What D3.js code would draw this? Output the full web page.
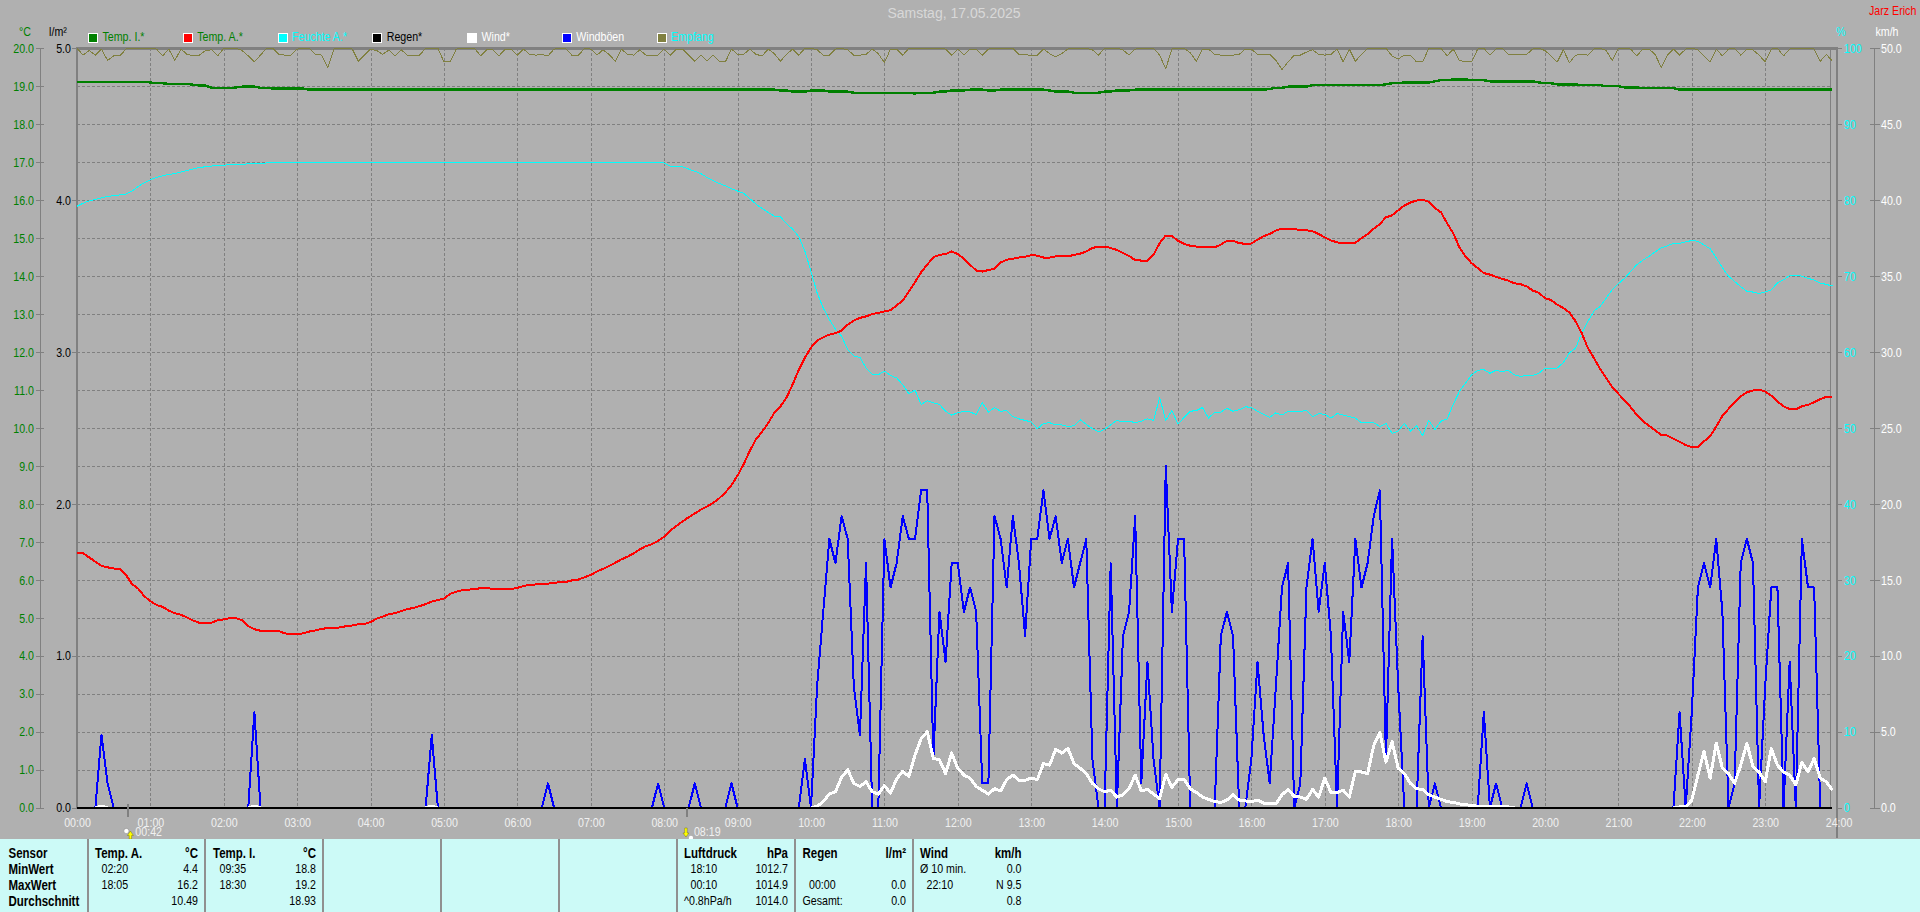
<!DOCTYPE html>
<html><head><meta charset="utf-8">
<script src="https://cdn.jsdelivr.net/npm/d3@7/dist/d3.min.js"></script>
<style>
html,body{margin:0;padding:0;background:#b0b0b0;overflow:hidden}
svg{display:block}
text{font-family:"Liberation Sans",Arial,sans-serif;font-size:13px}
.axis path.domain{display:none}
.axis line{stroke:#808080;shape-rendering:crispEdges}
.axis text{font-family:"Liberation Sans",Arial,sans-serif;font-size:13px}
.crisp{shape-rendering:crispEdges}
</style></head><body><div id="chart"></div>
<script>
// Samples every 5 minutes, 00:00 to 23:55: one row per hour
const tempInside=[
19.12,19.12,19.12,19.12,19.12,19.12,19.12,19.12,19.12,19.12,19.12,19.12,
19.1,19.08,19.08,19.06,19.06,19.06,19.06,19.04,19.02,19.02,18.96,18.96,
18.95,18.95,18.97,18.99,18.99,18.99,18.96,18.96,18.94,18.94,18.94,18.94,
18.94,18.94,18.91,18.91,18.91,18.91,18.91,18.91,18.91,18.91,18.91,18.91,
18.91,18.91,18.91,18.91,18.91,18.91,18.91,18.91,18.91,18.91,18.91,18.91,
18.91,18.91,18.91,18.91,18.91,18.91,18.91,18.91,18.91,18.91,18.91,18.91,
18.91,18.91,18.91,18.91,18.91,18.91,18.91,18.91,18.91,18.91,18.91,18.91,
18.91,18.91,18.91,18.91,18.91,18.91,18.91,18.91,18.91,18.91,18.91,18.91,
18.91,18.91,18.91,18.91,18.91,18.91,18.91,18.91,18.91,18.91,18.91,18.91,
18.91,18.91,18.91,18.91,18.91,18.91,18.91,18.89,18.89,18.86,18.86,18.86,
18.89,18.89,18.89,18.86,18.86,18.86,18.86,18.83,18.83,18.83,18.83,18.83,
18.83,18.83,18.83,18.83,18.83,18.81,18.83,18.83,18.83,18.86,18.86,18.89,
18.89,18.89,18.91,18.91,18.91,18.89,18.89,18.91,18.91,18.91,18.91,18.91,
18.91,18.91,18.91,18.89,18.86,18.86,18.86,18.83,18.83,18.83,18.83,18.83,
18.86,18.86,18.89,18.89,18.89,18.91,18.91,18.91,18.91,18.91,18.91,18.91,
18.91,18.91,18.91,18.91,18.91,18.91,18.91,18.91,18.91,18.91,18.91,18.91,
18.91,18.91,18.91,18.93,18.96,18.96,18.99,18.99,18.99,18.99,19.03,19.03,
19.03,19.03,19.03,19.03,19.03,19.03,19.03,19.03,19.03,19.03,19.05,19.08,
19.08,19.1,19.1,19.1,19.1,19.1,19.13,19.16,19.16,19.18,19.18,19.18,
19.16,19.16,19.16,19.13,19.13,19.13,19.13,19.13,19.13,19.13,19.13,19.1,
19.08,19.08,19.05,19.05,19.05,19.05,19.03,19.03,19.03,19.03,19,19,
19,18.97,18.97,18.97,18.95,18.95,18.95,18.95,18.95,18.95,18.91,18.91,
18.91,18.91,18.91,18.91,18.91,18.91,18.91,18.91,18.91,18.91,18.91,18.91,
18.91,18.91,18.91,18.91,18.91,18.91,18.91,18.91,18.91,18.91,18.91,18.91];

const tempOutside=[
6.72,6.7,6.59,6.48,6.37,6.33,6.3,6.29,6.13,5.89,5.77,5.57,
5.44,5.34,5.29,5.19,5.12,5.08,5.01,4.93,4.87,4.86,4.87,4.94,
4.96,4.99,4.99,4.94,4.78,4.7,4.66,4.66,4.66,4.65,4.59,4.58,
4.58,4.59,4.64,4.67,4.71,4.73,4.73,4.75,4.78,4.8,4.83,4.84,
4.89,4.98,5.03,5.1,5.12,5.18,5.23,5.26,5.31,5.36,5.43,5.47,
5.51,5.63,5.69,5.73,5.74,5.76,5.78,5.79,5.76,5.75,5.75,5.76,
5.79,5.84,5.87,5.88,5.89,5.9,5.92,5.94,5.95,5.99,6.01,6.07,
6.13,6.22,6.29,6.37,6.45,6.54,6.61,6.7,6.8,6.89,6.94,7.03,
7.14,7.3,7.42,7.54,7.65,7.75,7.85,7.93,8.03,8.15,8.3,8.5,
8.75,9.05,9.4,9.7,9.9,10.13,10.4,10.57,10.8,11.15,11.53,11.85,
12.12,12.3,12.39,12.46,12.5,12.56,12.72,12.83,12.9,12.94,13,13.03,
13.07,13.1,13.23,13.35,13.6,13.84,14.1,14.3,14.5,14.56,14.58,14.65,
14.58,14.46,14.3,14.15,14.12,14.16,14.19,14.36,14.43,14.46,14.49,14.51,
14.55,14.54,14.49,14.49,14.52,14.52,14.52,14.56,14.59,14.65,14.74,14.78,
14.78,14.74,14.69,14.61,14.53,14.42,14.41,14.41,14.56,14.87,15.07,15.06,
14.93,14.85,14.8,14.78,14.78,14.76,14.76,14.83,14.93,14.93,14.87,14.85,
14.86,14.96,15.05,15.11,15.2,15.25,15.25,15.24,15.21,15.21,15.18,15.11,
15.02,14.94,14.89,14.86,14.86,14.88,15,15.11,15.25,15.37,15.55,15.6,
15.73,15.86,15.94,15.99,16.01,15.96,15.79,15.68,15.39,15.13,14.76,14.52,
14.34,14.21,14.08,14.04,13.98,13.93,13.88,13.81,13.79,13.73,13.62,13.56,
13.42,13.37,13.25,13.16,13.04,12.81,12.5,12.11,11.84,11.56,11.32,11.08,
10.9,10.73,10.55,10.35,10.18,10.06,9.94,9.82,9.8,9.72,9.64,9.55,
9.5,9.49,9.65,9.78,10.04,10.32,10.5,10.68,10.83,10.94,10.99,11.01,
10.96,10.85,10.7,10.57,10.5,10.49,10.57,10.61,10.68,10.76,10.82,10.83];

const humidity=[
79.2,79.6,79.9,80.1,80.3,80.5,80.6,80.7,80.8,81.2,81.8,82.3,
82.7,83,83.2,83.4,83.5,83.7,83.9,84.1,84.3,84.4,84.5,84.6,
84.6,84.7,84.7,84.7,84.8,84.8,84.8,84.9,84.9,84.9,85,85,
85,85,85,85,85,85,85,85,85,85,85,85,
85,85,85,85,85,85,85,85,85,85,85,85,
85,85,85,85,85,85,85,85,85,85,85,85,
85,85,85,85,85,85,85,85,85,85,85,85,
85,85,85,85,85,85,85,85,85,85,85,85,
84.9,84.5,84.4,84.4,84.1,83.8,83.5,83,82.6,82.2,81.9,81.5,
81.2,80.9,80.2,79.5,78.9,78.4,77.9,77.8,76.9,76.2,75.2,73.3,
70.6,67.8,65.8,64.3,63,62.1,60.3,59.5,59.3,57.9,57.1,57,
57.5,56.9,56.6,55.7,54.5,55,53.1,53.6,53.3,53.1,52.2,51.7,
52,52.2,52.1,51.8,53.3,52.1,52.7,52.2,52.3,51.5,51.2,51,
50.8,49.9,50.6,50.7,50.4,50.4,50.2,50.3,51.1,50.5,49.9,49.5,
49.8,50.4,51,50.8,50.9,50.7,50.9,51.2,51,54,51,52.3,
50.5,51.4,52.2,52.3,52.7,51.3,52.1,52.1,52.6,52.2,52.4,52.8,
52.7,52.2,51.8,51.4,52,51.7,52.2,52.2,52.2,52.3,51.5,51.9,
51.8,51.3,51.9,51.7,51.5,51.3,50.7,50.7,50.7,50.2,50.6,49.3,
49.6,50.6,49.6,50.3,49,51,49.8,50.9,51.2,53.1,54.8,55.9,
57,57.6,57.7,57.2,57.6,57.4,57.6,57,56.8,56.9,56.9,57.2,
57.9,57.8,57.9,58.6,59.9,60.5,62.5,64,65.4,66,67.1,68.2,
69,69.7,70.6,71.5,72.1,72.6,73.2,73.7,74,74.3,74.3,74.5,
74.7,74.6,74.1,73.6,72.4,71.1,70,69.3,68.6,68,67.9,67.7,
67.9,68.2,69.1,69.5,70.1,70.1,70,69.7,69.5,69.1,68.9,68.7];

const rain=[
0,0,0,0,0,0,0,0,0,0,0,0, 0,0,0,0,0,0,0,0,0,0,0,0,
0,0,0,0,0,0,0,0,0,0,0,0, 0,0,0,0,0,0,0,0,0,0,0,0,
0,0,0,0,0,0,0,0,0,0,0,0, 0,0,0,0,0,0,0,0,0,0,0,0,
0,0,0,0,0,0,0,0,0,0,0,0, 0,0,0,0,0,0,0,0,0,0,0,0,
0,0,0,0,0,0,0,0,0,0,0,0, 0,0,0,0,0,0,0,0,0,0,0,0,
0,0,0,0,0,0,0,0,0,0,0,0, 0,0,0,0,0,0,0,0,0,0,0,0,
0,0,0,0,0,0,0,0,0,0,0,0, 0,0,0,0,0,0,0,0,0,0,0,0,
0,0,0,0,0,0,0,0,0,0,0,0, 0,0,0,0,0,0,0,0,0,0,0,0,
0,0,0,0,0,0,0,0,0,0,0,0, 0,0,0,0,0,0,0,0,0,0,0,0,
0,0,0,0,0,0,0,0,0,0,0,0, 0,0,0,0,0,0,0,0,0,0,0,0,
0,0,0,0,0,0,0,0,0,0,0,0, 0,0,0,0,0,0,0,0,0,0,0,0,
0,0,0,0,0,0,0,0,0,0,0,0, 0,0,0,0,0,0,0,0,0,0,0,0];

const wind=[
0,0,0,0,.1,0,0,0,0,0,0,0,
0,0,0,0,0,0,0,0,0,0,0,0,
0,0,0,0,0,.1,0,0,0,0,0,0,
0,0,0,0,0,0,0,0,0,0,0,0,
0,0,0,0,0,0,0,0,0,0,.1,0,
0,0,0,0,0,0,0,0,0,0,0,0,
0,0,0,0,0,0,0,0,0,0,0,0,
0,0,0,0,0,0,0,0,0,0,0,0,
0,0,0,0,0,0,0,0,0,0,0,0,
0,0,0,0,0,0,0,0,0,0,0,0,
0,.1,.4,.9,1.05,2,2.5,1.6,1.4,1.7,1.05,.9,
1.45,.95,1.9,2.4,2.05,3.45,4.55,5,3.25,3.15,2.25,3.6,
2.6,2.15,1.95,1.4,1.15,.9,1.25,1.1,1.85,2.15,1.8,1.8,
1.95,1.85,2.9,2.8,3.85,3.6,3.9,2.9,2.6,2.25,1.6,1.25,
1.05,1.15,.7,.85,1.25,2.15,1.1,1.2,.9,.6,2.2,1.35,
1.85,1.85,1.25,1,.7,.55,.4,.35,.5,.85,.5,.45,
.4,.5,.3,.25,.25,.85,1.2,.75,.7,.55,1.2,.7,
1.95,1,1,1.15,.7,2.4,2.35,2.25,4.1,4.95,3,4.35,
2.6,2.25,1.6,1.25,1.2,.85,.7,.55,.4,.35,.25,.2,
.15,.1,.1,.1,.05,.05,.05,0,0,0,0,0,
0,0,0,0,0,0,0,0,0,0,0,0,
0,0,0,0,0,0,0,0,0,0,.05,.05,
.5,2.15,3.7,1.95,4.25,2.6,2.25,1.6,2.8,4.25,2.7,2.35,
1.7,3.9,2.8,2.35,2.15,1.5,3,2.35,3.25,1.95,1.7,1.15];

const gusts=[
0,0,0,0,4.8,1.6,0,0,0,0,0,0,
0,0,0,0,0,0,0,0,0,0,0,0,
0,0,0,0,0,6.3,0,0,0,0,0,0,
0,0,0,0,0,0,0,0,0,0,0,0,
0,0,0,0,0,0,0,0,0,0,4.8,0,
0,0,0,0,0,0,0,0,0,0,0,0,
0,0,0,0,0,1.6,0,0,0,0,0,0,
0,0,0,0,0,0,0,0,0,0,0,1.6,
0,0,0,0,0,1.6,0,0,0,0,0,1.6,
0,0,0,0,0,0,0,0,0,0,0,3.2,
0,8,12.9,17.7,16.1,19.2,17.7,8,4.8,16.1,0,0,
17.7,14.5,16.1,19.2,17.7,17.7,20.9,20.9,3.2,12.9,9.6,16.1,
16.1,12.9,14.5,12.9,1.6,1.6,19.2,17.7,14.5,19.2,16.1,11.3,
17.7,17.7,20.9,17.7,19.2,16.1,17.7,14.5,16.1,17.7,3.2,0,
0,16.1,0,11.3,12.9,19.2,1.6,9.6,3.2,0,22.5,12.9,
17.7,17.7,0,0,0,0,0,11.3,12.9,11.3,0,0,
3.2,9.6,4.8,1.6,8,14.5,16.1,0,1.6,14.5,17.7,12.9,
16.1,11.3,0,12.9,9.6,17.7,14.5,16.1,19.2,20.9,3.2,17.7,
8,0,0,0,11.3,0,1.6,0,0,0,0,0,
0,0,6.3,0,1.6,0,0,0,0,1.6,0,0,
0,0,0,0,0,0,0,0,0,0,0,0,
0,0,0,0,0,0,0,0,0,0,6.3,0,
6.3,14.5,16.1,14.5,17.7,12.9,0,1.6,16.1,17.7,16.1,0,
8,14.5,14.5,0,9.6,0,17.7,14.5,14.5,0,0,0];

const reception=[
100,99.1,99.7,99.1,99.9,98.4,99,99,99.9,100,100,100,
100,99.9,99,99.9,98.4,99.9,99.2,99,99.1,99.7,99.8,99,
100,100,100,99.7,99,98.2,99.1,100,100,99.2,99.1,99.1,
99.9,100,100,99.2,99.1,97.5,99.9,100,100,99.9,98.3,99.1,
99.9,99.7,99.2,99.8,99,99.8,99.1,99,99.1,100,100,100,
98.2,98.2,99.9,100,100,100,99,99.8,99.8,99,99.9,99.9,
99.1,99.9,99.2,99.1,99.2,99,99.9,100,99.9,99,99.1,100,
99.9,99.1,99.8,99.2,98.3,99.9,99.2,99.1,99.8,99.1,99,99.1,
99.9,99.1,99.9,99.9,99.1,98.3,99.1,98.3,99.1,98.3,98.2,99.9,
99.2,99.2,99.9,99.2,99,99.9,99.3,98.3,99.2,99.9,99.1,100,
100,99.8,99.1,99.1,99.9,100,99.8,99.1,99.1,99.2,99.9,99.3,
98.1,99.9,99.9,99.1,100,100,100,100,100,100,99.9,99.1,
99.9,99.1,99.9,99.9,99.1,99.9,100,100,100,100,99.2,99.2,
99,99.1,99.9,99.3,98.9,99.3,99.9,100,100,100,99.8,99.1,
100,100,100,99.8,99.1,99.9,100,100,100,99.1,97.3,99.9,
100,100,99.4,98.3,99.9,99.9,99.2,99.1,99.1,99.1,99.2,99.9,
99.9,99.2,99.2,99.2,98.4,97.2,98.2,99.1,99.1,99.5,99.8,99.2,
99.1,99.2,99.9,98.2,99.9,98.3,99.2,100,100,100,100,99,
98.6,99.1,99.1,98.2,98.2,100,100,100,99,99.9,98.4,98.2,
98.2,99.9,100,99.1,99.9,100,99.2,99.2,99.2,99.2,99.9,100,
99.7,99,98.2,99.8,98.1,99.1,99.2,99.1,99.9,100,99.7,98.4,
100,100,99.9,99,99.9,99.9,99.2,97.5,99.1,99.9,99.1,99.9,
100,99.8,99,98.2,99.9,99,99.9,100,99.1,99.9,99.8,99.1,
98.2,99.9,100,99,99.9,100,100,100,99.9,98.3,99.2,98.3];

const legendNames=["Temp. I.*","Temp. A.*","Feuchte A.*","Regen*","Wind*","Windböen","Empfang"];
const legendFill=["#008000","#ff0000","#00ffff","#000000","#ffffff","#0000ff","#808040"];
const legendText=["#008000","#008000","#00ffff","#000000","#ffffff","#ffffff","#00ffff"];
const hourLabels=["00:00","01:00","02:00","03:00","04:00","05:00","06:00","07:00","08:00","09:00","10:00","11:00","12:00","13:00","14:00","15:00","16:00","17:00","18:00","19:00","20:00","21:00","22:00","23:00","24:00"];
const tempTicks=[0,1,2,3,4,5,6,7,8,9,10,11,12,13,14,15,16,17,18,19,20];
const rainTicks=[0,1,2,3,4,5];
const humidityTicks=[0,10,20,30,40,50,60,70,80,90,100];
const windTicks=[0,5,10,15,20,25,30,35,40,45,50];
const sunriseMinutes=42, sunsetLabel="08:19", sunriseLabel="00:42", sunsetMinutes=499;
const sensorNames=["Sensor","MinWert","MaxWert","Durchschnitt"];
const tableTempA=[["Temp. A.","°C"],["02:20","4.4"],["18:05","16.2"],["","10.49"]];
const tableTempI=[["Temp. I.","°C"],["09:35","18.8"],["18:30","19.2"],["","18.93"]];
const tablePressure=[["Luftdruck","hPa"],["18:10","1012.7"],["00:10","1014.9"],["^0.8hPa/h","1014.0"]];
const tableRain=[["Regen","l/m²"],["",""],["00:00","0.0"],["Gesamt:","0.0"]];
const tableWind=[["Wind","km/h"],["Ø 10 min.","0.0"],["22:10","N 9.5"],["","0.8"]];

const W=1920,H=912,L=77,T=48.3,B=807.7,DAY=1440,NARROW=0.82;
const svg=d3.select("#chart").append("svg").attr("width",W).attr("height",H).attr("viewBox",`0 0 ${W} ${H}`);
svg.append("rect").attr("width",W).attr("height",H).attr("fill","#b0b0b0");

const x=d3.scaleLinear().domain([0,DAY]).range([L,1838.6]);
const yT=d3.scaleLinear().domain([0,20]).range([B,T]);
const yR=d3.scaleLinear().domain([0,5]).range([B,T]);
const yH=d3.scaleLinear().domain([0,100]).range([B,T]);
const yW=d3.scaleLinear().domain([0,50]).range([B,T]);
const xt=i=>x(i*5);
const lastX=xt(tempOutside.length-1);

// grid
const grid=svg.append("g").attr("class","crisp").attr("stroke","#808080").attr("stroke-dasharray","3 2");
grid.selectAll("line.h").data(tempTicks.slice(1,-1)).join("line").attr("x1",L).attr("x2",lastX)
  .attr("y1",d=>Math.round(yT(d))+.5).attr("y2",d=>Math.round(yT(d))+.5);
grid.selectAll("line.v").data(hourLabels.slice(1,-1)).join("line")
  .attr("x1",(d,i)=>Math.round(x((i+1)*60))+.5).attr("x2",(d,i)=>Math.round(x((i+1)*60))+.5).attr("y1",T).attr("y2",B);

// plot frame
const frame=svg.append("g").attr("class","crisp").attr("stroke","#808080");
frame.append("line").attr("x1",L).attr("x2",1838).attr("y1",48).attr("y2",48).attr("stroke-width",3);
frame.append("line").attr("x1",L).attr("x2",L).attr("y1",47).attr("y2",B).attr("stroke-width",2);
frame.append("line").attr("x1",1837).attr("x2",1837).attr("y1",47).attr("y2",838).attr("stroke-width",2);
frame.append("line").attr("x1",Math.round(lastX)-1.5).attr("x2",Math.round(lastX)-1.5).attr("y1",48).attr("y2",B);
frame.append("line").attr("x1",40.5).attr("x2",40.5).attr("y1",T).attr("y2",B);
frame.append("line").attr("x1",1874.5).attr("x2",1874.5).attr("y1",T).attr("y2",B);

// axes
function axis(gen,tx,color){
  const g=svg.append("g").attr("class","axis").attr("transform",`translate(${tx},0)`).call(gen);
  g.selectAll("text").attr("fill",color);
  return g;
}
axis(d3.axisLeft(yT).tickValues(tempTicks).tickFormat(d3.format(".1f")).tickSize(8).tickPadding(2),44,"#008000");
axis(d3.axisLeft(yR).tickValues(rainTicks).tickFormat(d3.format(".1f")).tickSize(5).tickPadding(1),77,"#000000");
axis(d3.axisRight(yH).tickValues(humidityTicks).tickFormat(d3.format("d")).tickSize(5).tickPadding(2),1837,"#00ffff");
axis(d3.axisRight(yW).tickValues(windTicks).tickFormat(d3.format(".1f")).tickSize(10).tickPadding(1),1870,"#ffffff");
const xAxis=d3.axisBottom(x).tickValues(hourLabels.map((d,i)=>i*60)).tickFormat((d,i)=>hourLabels[i]).tickSize(0).tickPadding(10);
const xg=svg.append("g").attr("class","axis").attr("transform",`translate(0,${B})`).call(xAxis);
xg.selectAll("text").attr("fill","#f0f0f0");

// units
const unit=(t,px,py,c,a)=>svg.append("text").attr("x",px).attr("y",py).attr("fill",c).attr("text-anchor",a||"middle").attr("dominant-baseline","middle").text(t);
unit("°C",25,33,"#008000");
unit("l/m²",58,33,"#000000");
unit("%",1841,33,"#00ffff");
unit("km/h",1887,33,"#ffffff");
unit("Jarz Erich",1869,12,"#ff0000","start");

// legend
const lg=svg.append("g").selectAll("g").data(legendNames).join("g").attr("transform",(d,i)=>`translate(${88+i*94.75},0)`);
lg.append("rect").attr("class","crisp").attr("x",.5).attr("y",33.5).attr("width",9).attr("height",9).attr("stroke","#ffffff").attr("fill",(d,i)=>legendFill[i]);
lg.append("text").attr("x",14.5).attr("y",38).attr("dominant-baseline","middle").attr("fill",(d,i)=>legendText[i]).text(d=>d);

// series
const series=(vals,scale,color,w)=>{
  const line=d3.line().x((d,i)=>xt(i)).y(d=>scale(d));
  svg.append("path").datum(vals).attr("class","crisp").attr("fill","none").attr("stroke",color).attr("stroke-width",w).attr("stroke-linejoin","round").attr("d",line);
};
series(reception,yH,"#808040",1);
series(tempInside,yT,"#008000",2.4);
series(humidity,yH,"#00ffff",1);
series(tempOutside,yT,"#ff0000",2);
series(gusts,yW,"#0000ff",2);
const windLine=d3.line().defined((d,i)=>d>0||wind[i-1]>0||wind[i+1]>0).x((d,i)=>xt(i)).y(d=>yW(d));
svg.append("path").datum(wind).attr("class","crisp").attr("fill","none").attr("stroke","#ffffff").attr("stroke-width",3).attr("stroke-linejoin","round").attr("d",windLine);
series(rain,yR,"#000000",2);

// sunrise / sunset markers
const marks=svg.append("g");
[sunriseMinutes,sunsetMinutes].forEach(m=>{
  marks.append("line").attr("class","crisp").attr("x1",x(m)).attr("x2",x(m)).attr("y1",m===sunriseMinutes?804:808).attr("y2",817).attr("stroke","#808080").attr("stroke-width",2);
});
const sx=x(sunriseMinutes), ex=x(sunsetMinutes);
marks.append("circle").attr("cx",sx-2).attr("cy",831).attr("r",2.6).attr("fill","#fff").attr("stroke","#808080").attr("stroke-width",.5);
marks.append("path").attr("transform",`translate(${sx+2},839)`).attr("d","M-1.2,0V-3.5H-3L0,-8L3,-3.5H1.2V0Z").attr("fill","#ffff00").attr("stroke","#606000").attr("stroke-width",.4);
marks.append("path").attr("transform",`translate(${ex-1.5},837)`).attr("d","M-1.2,-9V-4H-3L0,0L3,-4H1.2V-9Z").attr("fill","#ffff00").attr("stroke","#606000").attr("stroke-width",.4);
marks.append("circle").attr("cx",ex+3.5).attr("cy",838).attr("r",2.2).attr("fill","#fff");
marks.append("text").attr("x",sx+7).attr("y",833).attr("dominant-baseline","middle").attr("fill","#f0f0f0").text(sunriseLabel);
marks.append("text").attr("x",ex+6.5).attr("y",833).attr("dominant-baseline","middle").attr("fill","#f0f0f0").text(sunsetLabel);

// summary table
const tb=svg.append("g");
tb.append("rect").attr("x",0).attr("y",839).attr("width",W).attr("height",73).attr("fill","#ccfaf7");
tb.selectAll("line").data([88,205,323,441,559,677,795,913]).join("line").attr("class","crisp")
  .attr("x1",d=>d).attr("x2",d=>d).attr("y1",839).attr("y2",912).attr("stroke","#909090").attr("stroke-width",2);
const rowY=[854,870,886,902];
const cell=(t,px,py,a,b)=>tb.append("text").attr("x",px).attr("y",py).attr("text-anchor",a).attr("dominant-baseline","middle")
  .attr("fill","#000").style("font-weight",b?"bold":"normal").style("font-size",b?"14px":"13px").text(t);
sensorNames.forEach((s,i)=>cell(s,8.5,rowY[i],"start",true));
[[tableTempA,95,198],[tableTempI,213,316],[tablePressure,684,788],[tableRain,802.5,906],[tableWind,920,1021.5]].forEach(([rows,l,r])=>{
  rows.forEach((row,i)=>{
    const b=i===0, isTime=/^\d\d:\d\d$/.test(row[0]);
    cell(row[0],isTime?l+6.5:l,rowY[i],"start",b);
    cell(row[1],r,rowY[i],"end",b);
  });
});

// the reference uses a tall narrow system font: narrow every label about its anchor
svg.selectAll("text").each(function(){
  const ax=+this.getAttribute("x")||0;
  this.setAttribute("transform",`translate(${ax},0) scale(${NARROW},1) translate(${-ax},0)`);
});
// title is the one label at normal width
svg.append("text").attr("x",954).attr("y",14.5).attr("text-anchor","middle").attr("dominant-baseline","middle")
  .attr("fill","#d8d8d8").style("font-size","14px").text("Samstag, 17.05.2025");
</script></body></html>
